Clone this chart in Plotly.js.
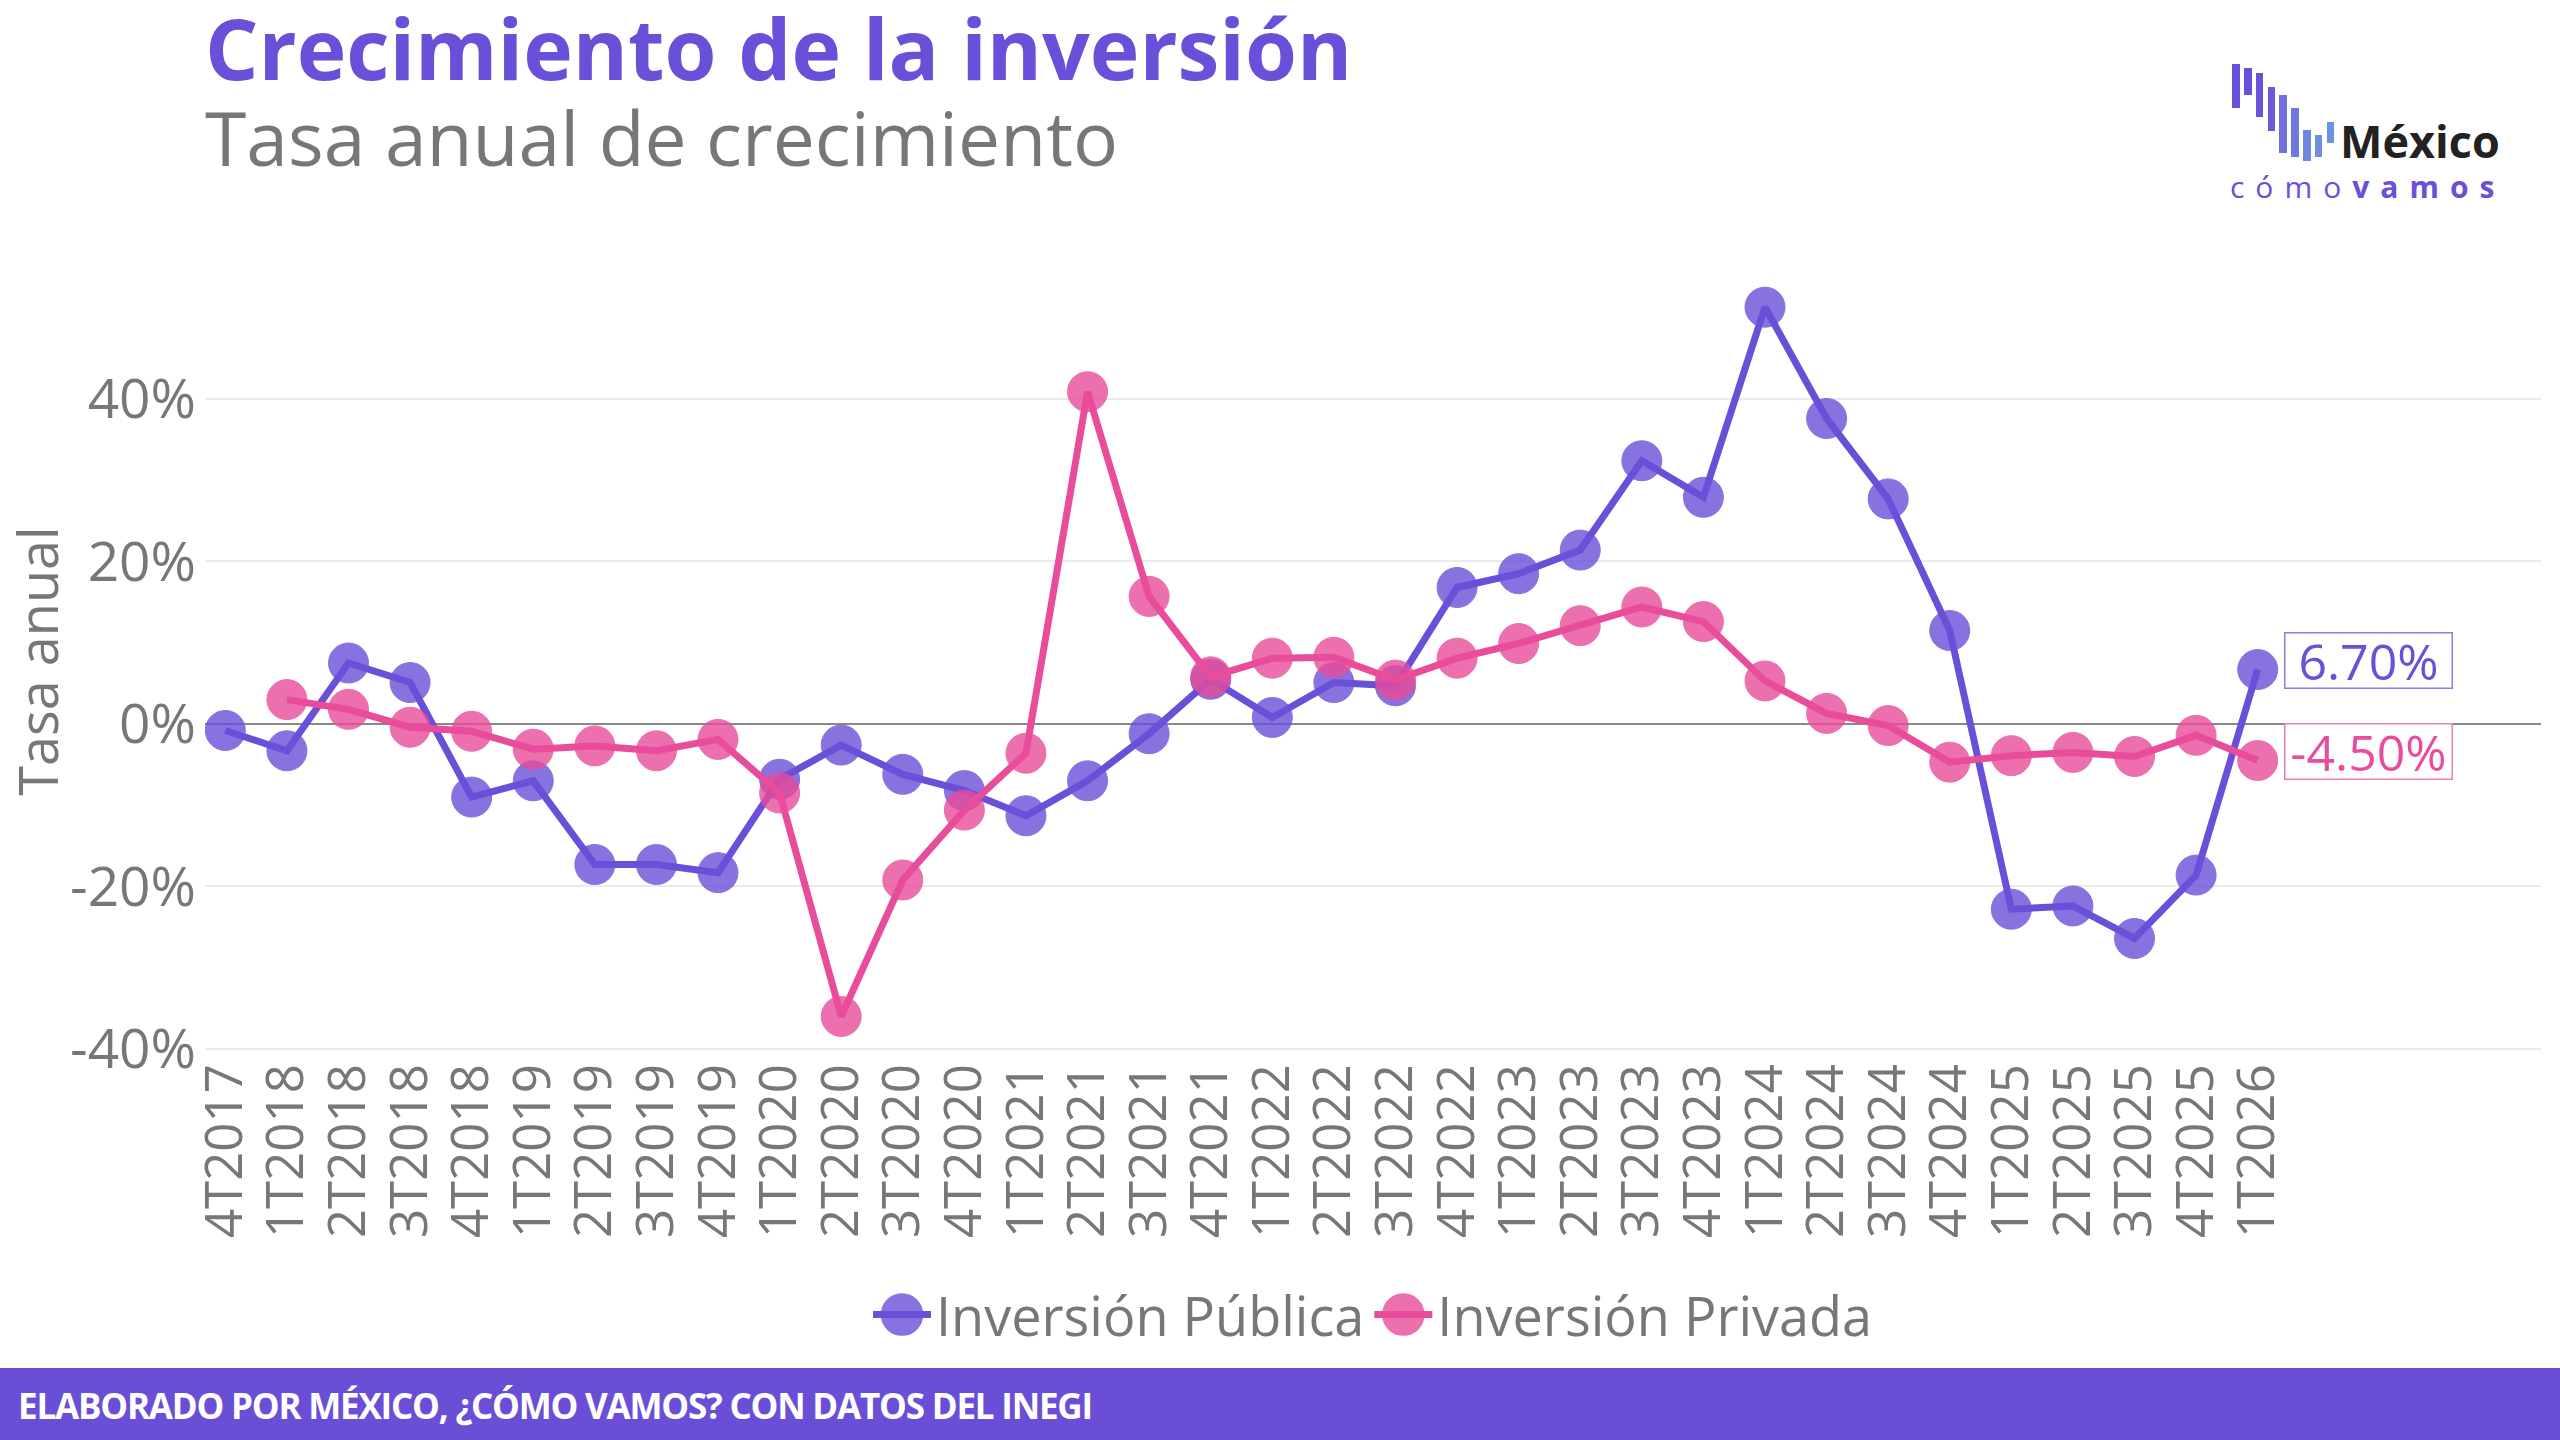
<!DOCTYPE html>
<html><head><meta charset="utf-8">
<script src="https://cdn.plot.ly/plotly-3.0.1.min.js"></script>
<style>html,body{margin:0;padding:0;background:#fff}#chart{width:2560px;height:1440px}</style>
</head><body><div id="chart"></div>
<script>
const categories = ['4T2017','1T2018','2T2018','3T2018','4T2018','1T2019','2T2019','3T2019','4T2019',
  '1T2020','2T2020','3T2020','4T2020','1T2021','2T2021','3T2021','4T2021','1T2022','2T2022','3T2022','4T2022',
  '1T2023','2T2023','3T2023','4T2023','1T2024','2T2024','3T2024','4T2024','1T2025','2T2025','3T2025','4T2025','1T2026'];
const inversionPublica = [-0.8, -3.3, 7.5, 5.1, -9.0, -7.0, -17.3, -17.3, -18.3, -6.8, -2.6, -6.2, -8.2, -11.3, -7.0, -1.2,
  5.5, 0.8, 5.1, 4.7, 16.8, 18.5, 21.4, 32.4, 27.9, 51.3, 37.6, 27.7, 11.5, -22.8, -22.4, -26.4, -18.6, 6.7];
const inversionPrivada = [null, 3.0, 1.8, -0.4, -0.9, -3.1, -2.7, -3.3, -1.9, -8.5, -36.0, -19.2, -10.6, -3.6, 40.9, 15.7,
  5.8, 8.1, 8.2, 5.4, 8.1, 9.9, 12.1, 14.4, 12.6, 5.3, 1.3, -0.2, -4.7, -3.9, -3.5, -4.0, -1.4, -4.5];
const seriesNames = ['Inversión Pública', 'Inversión Privada'];
const yTickVals = [-40, -20, 0, 20, 40];

const PURPLE = '#6a4fd8', PINK = '#e84c9a', GRAY = '#777777';
const FONT = 'Open Sans, Noto Sans, sans-serif';

// plot-area pixel frame, used to place decorations
const L = 205, R = 2541, T = 269, B = 1053;
const px = x => (x - L) / (R - L);
const py = y => (B - y) / (B - T);

function mkTrace(name, vals, color) {
  return {
    type: 'scatter', mode: 'lines+markers', name: name,
    x: categories, y: vals,
    line: {color: color, width: 7},
    marker: {color: color, size: 40, opacity: 0.8, line: {color: color, width: 1}},
    hoverinfo: 'skip'
  };
}
const traces = [
  mkTrace(seriesNames[0], inversionPublica, PURPLE),
  mkTrace(seriesNames[1], inversionPrivada, PINK)
];

const lastIdx = categories.length - 1;
function endLabel(vals, color, border) {
  return {
    x: categories[lastIdx], y: vals[lastIdx], xref: 'x', yref: 'y',
    text: vals[lastIdx].toFixed(2) + '%', showarrow: false,
    xanchor: 'left', yanchor: 'middle', xshift: 26, yshift: 9,
    width: 166, height: 54, align: 'center', valign: 'middle',
    font: {family: FONT, size: 50, color: color},
    bgcolor: '#ffffff', bordercolor: border, borderwidth: 1.5, borderpad: 0
  };
}

// logo bars (decoration)
const logoBars = [[2232,2240,64,108],[2244,2252,68,95],[2256,2263,73,117],[2268,2275,87,131],
  [2279,2287,95,153],[2291,2299,108,157],[2303,2311,130,161],[2315,2322,135,157],[2327,2334,122,143]];
const logoColors = ['#6a4fd8','#6a50d8','#6c52d9','#6e5ad9','#7070dc','#7078dd','#7086df','#6f8ee0','#6b92e1'];
const shapes = logoBars.map((b, i) => ({
  type: 'rect', xref: 'paper', yref: 'paper', x0: px(b[0]), x1: px(b[1]), y0: py(b[2]), y1: py(b[3]),
  fillcolor: logoColors[i], line: {width: 0}, layer: 'above'
}));
// footer band
shapes.push({type: 'rect', xref: 'paper', yref: 'paper', x0: px(0), x1: px(2560), y0: py(1368), y1: py(1445),
  fillcolor: '#6a4fd6', line: {width: 0}, layer: 'above'});

const annotations = [
  endLabel(inversionPublica, PURPLE, '#8a7be6'),
  endLabel(inversionPrivada, PINK, '#f07ab5'),
  {xref: 'paper', yref: 'paper', x: px(203), y: py(137), xanchor: 'left', yanchor: 'middle', showarrow: false,
   text: 'Tasa anual de crecimiento', font: {family: FONT, size: 75, color: GRAY}},
  {xref: 'paper', yref: 'paper', x: px(2338), y: py(140), xanchor: 'left', yanchor: 'middle', showarrow: false,
   text: '<b>México</b>', font: {family: FONT, size: 45, color: '#222222'}},
  {xref: 'paper', yref: 'paper', x: px(2228), y: py(186), xanchor: 'left', yanchor: 'middle', showarrow: false,
   text: '<span style="letter-spacing:11px">cómo</span><b><span style="letter-spacing:11px">vamos</span></b>',
   font: {family: FONT, size: 30, color: PURPLE}},
  {xref: 'paper', yref: 'paper', x: px(16), y: py(1405), xanchor: 'left', yanchor: 'middle', showarrow: false,
   text: '<b><span style="letter-spacing:-1.2px">ELABORADO POR MÉXICO, ¿CÓMO VAMOS? CON DATOS DEL INEGI</span></b>',
   font: {family: FONT, size: 35, color: '#ffffff'}}
];

const layout = {
  width: 2560, height: 1440,
  paper_bgcolor: '#ffffff', plot_bgcolor: '#ffffff',
  margin: {l: L, r: 2560 - R, t: T, b: 1440 - B, pad: 0},
  title: {text: '<b>Crecimiento de la inversión</b>', x: 205 / 2560, xanchor: 'left', xref: 'container',
    y: 1 - 21 / 1440, yref: 'container', yanchor: 'top',
    font: {family: FONT, size: 84, color: PURPLE}},
  font: {family: FONT, color: GRAY},
  showlegend: true,
  legend: {orientation: 'h', x: 0.5, xanchor: 'center', y: py(1315), yanchor: 'middle',
    font: {family: FONT, size: 54, color: GRAY}, bgcolor: 'rgba(0,0,0,0)', itemwidth: 58},
  xaxis: {type: 'category', categoryorder: 'array', categoryarray: categories,
    tickmode: 'array', tickvals: categories, ticktext: categories,
    range: [-0.33, 37.6], tickangle: -90, showgrid: false, zeroline: false, showline: false,
    ticks: '', tickfont: {family: FONT, size: 51, color: GRAY}, automargin: false, fixedrange: true},
  yaxis: {range: [-40.5, 56], tickvals: yTickVals, ticktext: yTickVals.map(v => v + '%'),
    showgrid: true, gridcolor: '#ebebeb', gridwidth: 2, ticklabelstandoff: 8,
    zeroline: true, zerolinecolor: '#888888', zerolinewidth: 2.5, showline: false, ticks: '',
    tickfont: {family: FONT, size: 55, color: GRAY}, automargin: false,
    title: {text: 'Tasa anual', font: {family: FONT, size: 54, color: GRAY}, standoff: 0}},
  shapes: shapes,
  annotations: annotations
};

Plotly.newPlot('chart', traces, layout, {displayModeBar: false, staticPlot: true}).then(gd => {
  gd.querySelectorAll('.legendpoints path.scatterpts').forEach(p => {
    const t = p.getAttribute('transform') || '';
    p.setAttribute('transform', t + ' scale(2.5)');
  });
});
</script>
</body></html>
